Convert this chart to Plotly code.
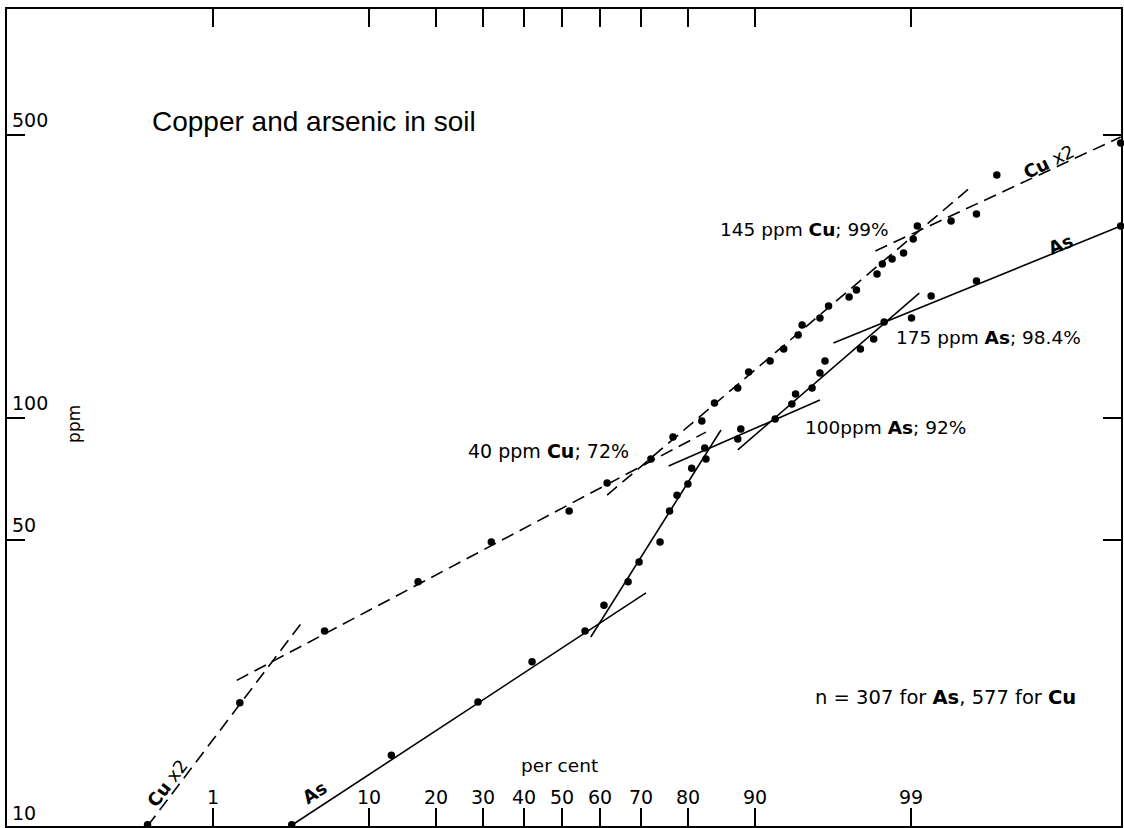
import math
from statistics import NormalDist
import plotly.graph_objects as go

# ---------------- data ----------------
cu_pct = [0.29, 1.6, 5.7, 16.9, 31.9, 51.9, 61.8, 72.3, 77.0, 82.4, 84.5, 87.9, 89.3, 91.7,
          93.0, 94.2, 94.5, 95.7, 96.2, 97.2, 97.5, 98.2, 98.35, 98.6, 98.85, 99.03, 99.1,
          99.52, 99.71, 99.81, 99.99]
cu_ppm_x2 = [9.9, 19.8, 29.8, 39.4, 49.4, 58.9, 69.1, 79.2, 89.8, 98.3, 108.9, 118.6, 129.9,
             138.3, 148.0, 160.3, 169.7, 176.6, 189.1, 199.0, 207.0, 226.8, 240.0, 247.0,
             255.6, 276.7, 297.9, 306.5, 319.0, 398.0, 477.5]

as_pct = [3.6, 12.8, 28.8, 42.1, 56.1, 61.0, 67.0, 69.6, 74.3, 76.3, 77.8, 79.9, 80.6, 83.1,
          82.9, 87.9, 88.3, 92.2, 93.7, 94.0, 95.2, 95.7, 96.0, 97.65, 98.1, 98.4, 99.0, 99.3,
          99.71, 99.99]
as_ppm = [9.9, 14.7, 19.9, 25.0, 29.8, 34.5, 39.4, 44.1, 49.4, 58.9, 64.5, 68.7, 75.2, 79.2,
          84.3, 88.7, 93.9, 99.4, 108.3, 114.6, 118.6, 129.2, 138.3, 148.0, 156.7, 172.6,
          176.6, 200.1, 217.9, 297.9]

# fitted straight segments (start, end) in (per cent, ppm)
cu_seg_pct = [(0.29, 4.15), (1.52, 83.1), (61.8, 99.69), (98.15, 99.99)]
cu_seg_ppm = [(9.83, 31.2), (22.5, 92.3), (64.5, 376.0), (258.5, 494.0)]
as_seg_pct = [(3.54, 71.2), (57.6, 85.5), (76.1, 95.7), (87.9, 99.13), (96.46, 99.99)]
as_seg_ppm = [(9.83, 37.0), (28.8, 93.4), (76.1, 110.8), (83.4, 203.5), (153.2, 297.9)]

x_ticks = [1, 10, 20, 30, 40, 50, 60, 70, 80, 90, 99]
x_tick_text = ["1", "10", "20", "30", "40", "50", "60", "70", "80", "90", "99"]
y_ticks = [50, 100, 500]
y_tick_text = ["50", "100", "500"]

# ---------------- helpers ----------------
ND = NormalDist()


def z(p):
    return ND.inv_cdf(p / 100.0)


def seg_xy(pcts, vals):
    xs, ys = [], []
    for (p0, p1), (v0, v1) in zip(pcts, vals):
        xs += [z(p0), z(p1), None]
        ys += [v0, v1, None]
    return xs, ys


W, H = 1124, 828
ML, MR, MT, MB = 7, 1, 9, 2
PW, PH = W - ML - MR, H - MT - MB


def px(x):
    return (x - ML) / PW


def py(y):
    return (H - MB - y) / PH


FONT = "DejaVu Sans"
TFONT = "Liberation Sans"
fig = go.Figure()

cx, cy = seg_xy(cu_seg_pct, cu_seg_ppm)
fig.add_trace(go.Scatter(x=cx, y=cy, mode="lines",
                         line=dict(color="black", width=1.6, dash="13px,7px"),
                         hoverinfo="skip", showlegend=False))
ax_, ay_ = seg_xy(as_seg_pct, as_seg_ppm)
fig.add_trace(go.Scatter(x=ax_, y=ay_, mode="lines",
                         line=dict(color="black", width=1.6),
                         hoverinfo="skip", showlegend=False))
fig.add_trace(go.Scatter(x=[z(p) for p in cu_pct], y=cu_ppm_x2, mode="markers",
                         marker=dict(color="black", size=7.5), cliponaxis=False,
                         name="Cu x2", showlegend=False))
fig.add_trace(go.Scatter(x=[z(p) for p in as_pct], y=as_ppm, mode="markers",
                         marker=dict(color="black", size=7.5), cliponaxis=False,
                         name="As", showlegend=False))

ann = []


def A(text, x, y, size=18.5, xanchor="left", yanchor="middle", angle=0, family=FONT, **kw):
    d = dict(text=text, x=x, y=y, xref=kw.pop("xref", "paper"), yref=kw.pop("yref", "paper"),
             xanchor=xanchor, yanchor=yanchor, showarrow=False, textangle=angle,
             font=dict(family=family, size=size, color="black"))
    d.update(kw)
    ann.append(d)


A("Copper and arsenic in soil", px(150), py(121), size=28, family=TFONT)
for v, t in zip(y_ticks, y_tick_text):
    A(t, px(10), math.log10(v), size=19, yanchor="bottom", yref="y", yshift=2)
A("10", px(10), py(826), size=19, yanchor="bottom")
for p, t in zip(x_ticks, x_tick_text):
    A(t, z(p), py(797), size=19, xanchor="center", xref="x")
A("per cent", px(560), py(765), size=18.5, xanchor="center")
A("ppm", px(74), py(424), size=17, xanchor="center", angle=-90)
A("145 ppm <b>Cu</b>; 99%", px(719), py(230))
A("175 ppm <b>As</b>; 98.4%", px(896), py(338))
A("100ppm <b>As</b>; 92%", px(804), py(427))
A("40 ppm <b>Cu</b>; 72%", px(467), py(451), size=19)
A("n = 307 for <b>As</b>, 577 for <b>Cu</b>", px(814), py(697), size=19.5)
A("<b>Cu</b> x2", px(167), py(783), size=18, xanchor="center", angle=-53)
A("<b>As</b>", px(315), py(792), size=18, xanchor="center", angle=-33)
A("<b>Cu</b> x2", px(1051), py(162), size=18, xanchor="center", angle=-26)
A("<b>As</b>", px(1062), py(244), size=18, xanchor="center", angle=-22)

x_range = [(ML - 563) / 150.5, (W - MR - 563) / 150.5]
y_range = [2 - (H - MB - 418) / 405.0, 2 + (418 - MT) / 405.0]

fig.update_layout(
    width=W, height=H, margin=dict(l=ML, r=MR, t=MT, b=MB, pad=0),
    paper_bgcolor="white", plot_bgcolor="white",
    font=dict(family=FONT, color="black"),
    annotations=ann,
    hovermode=False,
    xaxis=dict(range=x_range, tickvals=[z(p) for p in x_ticks], ticktext=x_tick_text,
               showticklabels=False, ticks="inside", ticklen=18, tickwidth=2,
               tickcolor="black", showline=True, linewidth=2, linecolor="black",
               mirror="ticks", showgrid=False, zeroline=False),
    yaxis=dict(type="log", range=y_range, tickvals=y_ticks, ticktext=y_tick_text,
               showticklabels=False, ticks="inside", ticklen=18, tickwidth=2,
               tickcolor="black", showline=True, linewidth=2, linecolor="black",
               mirror="ticks", showgrid=False, zeroline=False),
)

fig.write_html("out.html", config={"displayModeBar": False},
               post_script="document.body.style.margin='0px';document.body.style.overflow='hidden';")
